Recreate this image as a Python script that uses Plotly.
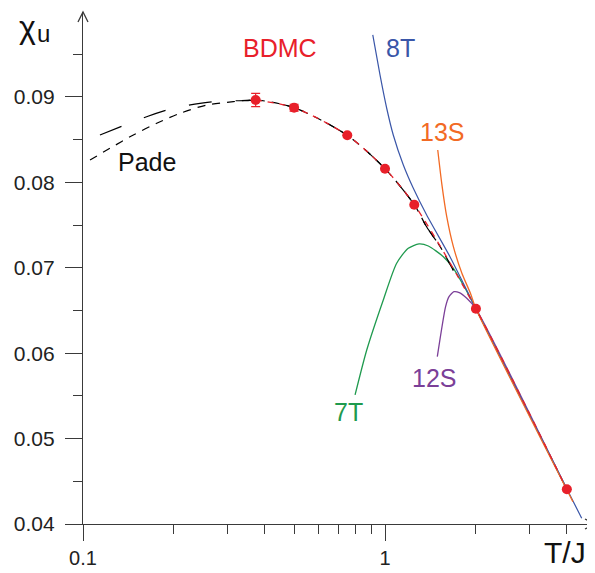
import plotly.graph_objects as go

# BDMC data
bdmc_T = [0.373, 0.5, 0.75, 1.0, 1.25, 2.0, 4.0]
bdmc_chi = [0.08965, 0.08875, 0.08551, 0.0816, 0.07739, 0.06521, 0.04406]
bdmc_err = [0.00078, 0.0004, 0.0, 0.0, 0.0, 0.0, 0.0]

# Pade approximants
pade1_T = [0.1055, 0.1228, 0.1468, 0.1754, 0.2096, 0.2568, 0.3147, 0.373, 0.5, 0.75, 1.0, 1.25, 1.373, 1.521, 1.684]
pade1_chi = [0.08262, 0.08399, 0.08555, 0.08692, 0.08809, 0.08906, 0.08945, 0.08965, 0.08875, 0.08551, 0.0816, 0.07739, 0.0748, 0.0725, 0.0697]
pade2_T = [0.1138, 0.1359, 0.1624, 0.199, 0.244, 0.2915, 0.3483, 0.373, 0.5, 0.75, 1.0, 1.25, 1.373, 1.521, 1.684]
pade2_chi = [0.08555, 0.08664, 0.08769, 0.08868, 0.08926, 0.08953, 0.08957, 0.08962, 0.08875, 0.08551, 0.0816, 0.07739, 0.0748, 0.0725, 0.0697]

# High-temperature series
t8_T = [0.911, 0.9625, 1.013, 1.065, 1.15, 1.241, 1.374, 1.641, 1.817, 2.0, 4.48]
t8_chi = [0.09726, 0.09258, 0.08868, 0.08555, 0.08204, 0.07931, 0.07618, 0.0713, 0.06818, 0.0652, 0.04067]
s13_T = [1.495, 1.541, 1.601, 1.684, 1.797, 1.918, 2.0, 4.19]
s13_chi = [0.08379, 0.07989, 0.07599, 0.07247, 0.06936, 0.06701, 0.0652, 0.04261]
t7_T = [0.796, 0.870, 0.987, 1.093, 1.194, 1.296, 1.391, 1.560, 1.684, 1.817, 2.0, 4.0]
t7_chi = [0.05511, 0.06037, 0.06623, 0.07053, 0.07228, 0.07279, 0.07255, 0.0713, 0.06994, 0.06798, 0.0652, 0.04406]
s12_T = [1.490, 1.587, 1.629, 1.692, 1.762, 1.865, 2.0, 4.0]
s12_chi = [0.05959, 0.06545, 0.06662, 0.0672, 0.06709, 0.06643, 0.0652, 0.04406]

x_major = [0.1, 1]
x_major_text = ["0.1", "1"]
x_minor = [0.2, 0.3, 0.4, 0.5, 0.6, 0.7, 0.8, 0.9, 2, 3, 4]
y_major = [0.04, 0.05, 0.06, 0.07, 0.08, 0.09]
y_major_text = ["0.04", "0.05", "0.06", "0.07", "0.08", "0.09"]

RED = "#e8202a"
BLUE = "#3a56a8"
ORANGE = "#f26a24"
GREEN = "#1f9a4e"
PURPLE = "#7b3f98"
AXIS = "#3a3a3a"
FONT = "Liberation Sans, Arial, Helvetica, sans-serif"

fig = go.Figure()

fig.add_trace(go.Scatter(x=t7_T, y=t7_chi, mode="lines", line=dict(color=GREEN, width=1.3, shape="spline", smoothing=0.7)))
fig.add_trace(go.Scatter(x=s12_T, y=s12_chi, mode="lines", line=dict(color=PURPLE, width=1.3, shape="spline", smoothing=0.6)))
fig.add_trace(go.Scatter(x=t8_T, y=t8_chi, mode="lines", line=dict(color=BLUE, width=1.2, shape="spline", smoothing=0.6)))
fig.add_trace(go.Scatter(x=s13_T, y=s13_chi, mode="lines", line=dict(color=ORANGE, width=1.3, shape="spline", smoothing=0.6)))
fig.add_trace(go.Scatter(x=pade1_T, y=pade1_chi, mode="lines",
                         line=dict(color="black", width=1.2, dash="8px,7px", shape="spline", smoothing=0.8)))
fig.add_trace(go.Scatter(x=pade2_T, y=pade2_chi, mode="lines",
                         line=dict(color="black", width=1.2, dash="23px,24px", shape="spline", smoothing=0.8)))
fig.add_trace(go.Scatter(x=bdmc_T, y=bdmc_chi, mode="lines",
                         line=dict(color=RED, width=1.3, dash="6px,6px", shape="spline", smoothing=0.8)))
fig.add_trace(go.Scatter(x=bdmc_T, y=bdmc_chi, mode="markers",
                         marker=dict(color=RED, size=10),
                         error_y=dict(type="data", array=bdmc_err, color=RED, thickness=1.2, width=4.5)))

# page has an 8px body margin: figure origin is at page (8, 8)
# plot area in page pixels: x 83..594, y 12..524
fig.update_layout(
    width=587, height=565,
    margin=dict(l=75, r=1, t=4, b=49),
    paper_bgcolor="white", plot_bgcolor="white",
    showlegend=False,
    font=dict(family=FONT, color="#222222"),
)
fig.update_xaxes(
    type="log", range=[-1, 0.692],
    showgrid=False, zeroline=False,
    showline=True, linecolor=AXIS, linewidth=1.3,
    tickmode="array", tickvals=x_major, ticktext=x_major_text,
    ticks="outside", ticklen=16, tickwidth=1.3, tickcolor=AXIS,
    tickfont=dict(size=20, family=FONT, color="#222222"),
    minor=dict(tickmode="array", tickvals=x_minor, ticks="outside", ticklen=9,
               tickwidth=1.2, tickcolor=AXIS, showgrid=False),
)
fig.update_yaxes(
    range=[0.04, 0.09995],
    showgrid=False, zeroline=False,
    showline=True, linecolor=AXIS, linewidth=1.3,
    tickmode="array", tickvals=y_major, ticktext=y_major_text,
    ticks="outside", ticklen=17, tickwidth=1.3, tickcolor=AXIS,
    tickfont=dict(size=21, family=FONT, color="#222222"),
    ticklabelstandoff=6,
    minor=dict(dtick=0.005, tick0=0.04, ticks="outside", ticklen=9,
               tickwidth=1.2, tickcolor=AXIS, showgrid=False),
)

# axis arrows
fig.add_shape(type="path", xref="paper", yref="paper", xsizemode="pixel", ysizemode="pixel",
              xanchor=0, yanchor=1, path="M -5,-10 L 0,0 L 5,-10",
              line=dict(color=AXIS, width=1.3))
fig.add_shape(type="path", xref="paper", yref="paper", xsizemode="pixel", ysizemode="pixel",
              xanchor=1, yanchor=0, path="M -9,5 L 0,0 L -9,-5",
              line=dict(color=AXIS, width=1.3))

def lab(text, px, py, color, size=25):
    fig.add_annotation(text=text, xref="paper", yref="paper",
                       x=(px - 83) / 511, y=(524 - py) / 512,
                       xanchor="center", yanchor="middle", showarrow=False,
                       font=dict(size=size, color=color, family=FONT))

lab("BDMC", 280, 48, RED)
lab("8T", 400, 48, BLUE)
lab("13S", 442, 132, ORANGE)
lab("7T", 348, 412, GREEN)
lab("12S", 434, 378, PURPLE)
lab("Pade", 147, 162, "#111111")
lab("χ", 27, 27, "#111111", size=32)
lab("u", 43, 33, "#111111", size=24)
lab("T/J", 565, 552, "#111111", size=30)

fig.write_html("out.html")
